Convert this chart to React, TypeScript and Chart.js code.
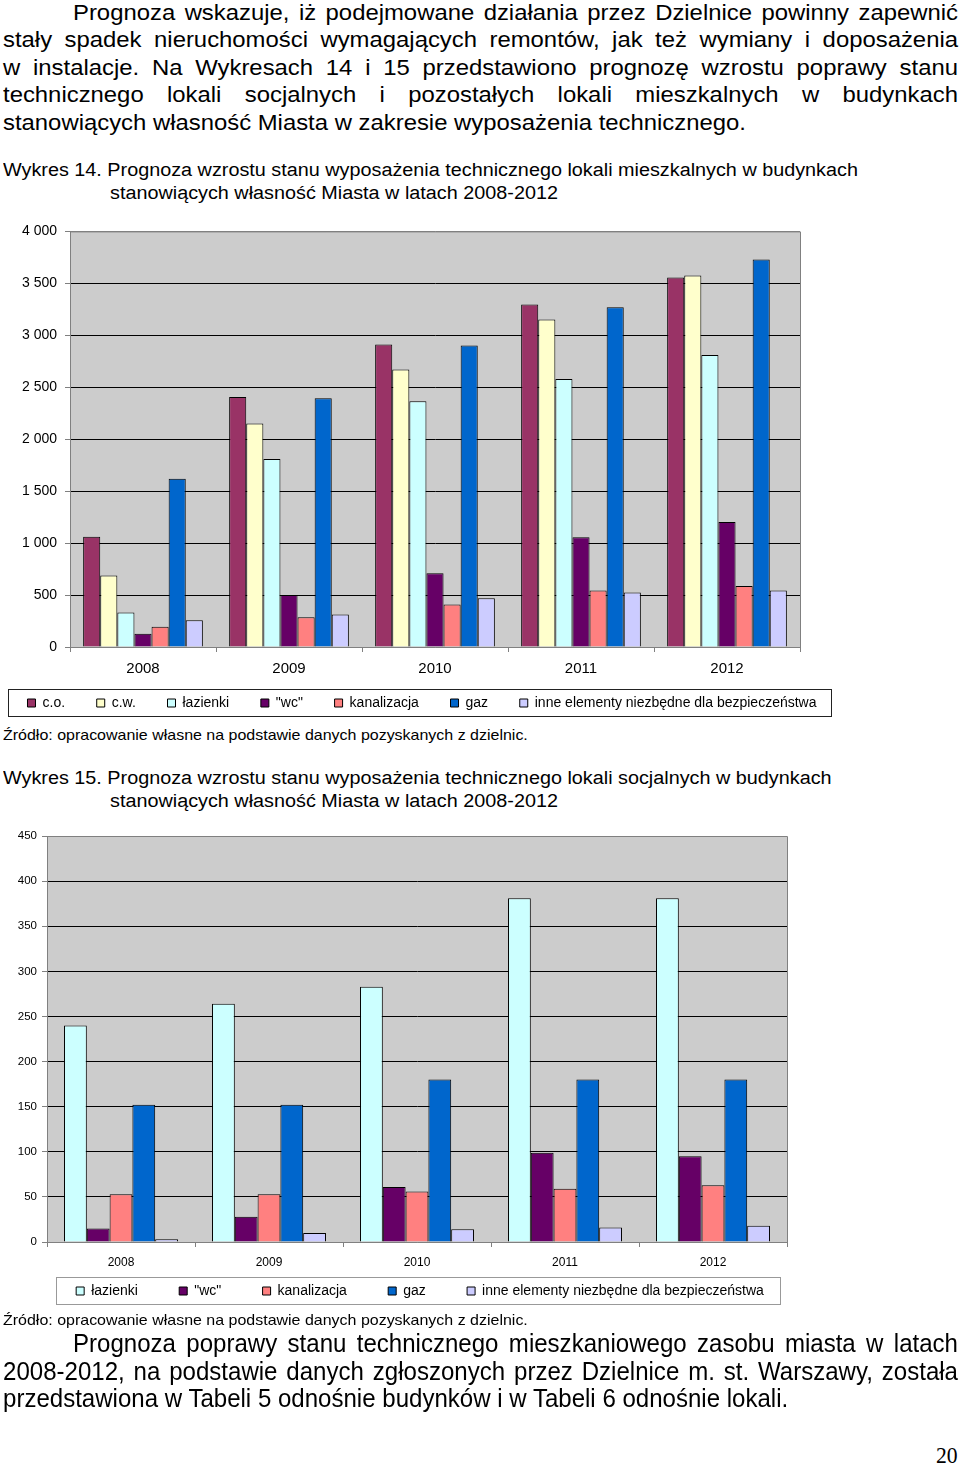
import React, { useEffect, useRef } from "react";
import { Chart, registerables } from "chart.js";

Chart.register(...registerables);

// ---------- data ----------
const years = ["2008", "2009", "2010", "2011", "2012"];

// Wykres 14
const co14 = [1060, 2405, 2912, 3296, 3557];
const cw14 = [688, 2150, 2670, 3152, 3576];
const lazienki14 = [331, 1809, 2365, 2580, 2811];
const wc14 = [128, 501, 710, 1057, 1202];
const kanalizacja14 = [196, 286, 408, 543, 588];
const gaz14 = [1619, 2394, 2901, 3271, 3730];
const inne14 = [257, 312, 469, 524, 543];
const yMax14 = 4000;
const yStep14 = 500;

// Wykres 15
const lazienki15 = [240, 264, 283, 381, 381];
const wc15 = [15, 28, 61, 99, 95];
const kanalizacja15 = [53, 53, 56, 59, 63];
const gaz15 = [152, 152, 180, 180, 180];
const inne15 = [3, 10, 14, 16, 18];
const yMax15 = 450;
const yStep15 = 50;

const seriesNames = {
  co: "c.o.",
  cw: "c.w.",
  lazienki: "łazienki",
  wc: "\"wc\"",
  kanalizacja: "kanalizacja",
  gaz: "gaz",
  inne: "inne elementy niezbędne dla bezpieczeństwa",
};

const colors = {
  co: "#993366",
  cw: "#FFFFCC",
  lazienki: "#CCFFFF",
  wc: "#660066",
  kanalizacja: "#FF8080",
  gaz: "#0066CC",
  inne: "#CCCCFF",
};

const FONT = "'Liberation Sans', Arial, sans-serif";

function fmtThousands(v: number) {
  return String(v).replace(/\B(?=(\d{3})+(?!\d))/g, " ");
}

const plotBgPlugin = {
  id: "plotBg",
  beforeDraw(chart: any) {
    const { ctx, chartArea } = chart;
    if (!chartArea) return;
    ctx.save();
    ctx.fillStyle = "#CCCCCC";
    ctx.fillRect(chartArea.left, chartArea.top, chartArea.right - chartArea.left, chartArea.bottom - chartArea.top);
    ctx.restore();
  },
  afterDraw(chart: any) {
    const { ctx, chartArea } = chart;
    ctx.save();
    ctx.strokeStyle = "#808080";
    ctx.lineWidth = 1;
    ctx.beginPath();
    ctx.moveTo(chartArea.left, chartArea.top + 0.5);
    ctx.lineTo(chartArea.right + 0.5, chartArea.top + 0.5);
    ctx.lineTo(chartArea.right + 0.5, chartArea.bottom);
    ctx.stroke();
    ctx.restore();
  },
};

const legendBorderPlugin = {
  id: "legendBorder",
  afterDraw(chart: any, _args: any, opts: any) {
    const lg = chart.legend;
    if (!lg || !lg.legendHitBoxes || !lg.legendHitBoxes.length) return;
    const hb = lg.legendHitBoxes;
    const first = hb[0];
    const last = hb[hb.length - 1];
    const left = Math.round(first.left - (opts.padLeft ?? 20)) + 0.5;
    const right = Math.round(last.left + last.width + (opts.padRight ?? 10)) + 0.5;
    const top = Math.round(first.top - (opts.padTop ?? 8)) + 0.5;
    const bottom = Math.round(first.top + first.height + (opts.padBottom ?? 8)) + 0.5;
    const { ctx } = chart;
    ctx.save();
    ctx.strokeStyle = opts.color || "#000";
    ctx.lineWidth = 1;
    ctx.strokeRect(left, top, right - left, bottom - top);
    ctx.restore();
  },
};

function makeDataset(key: keyof typeof colors, data: number[]) {
  return {
    label: seriesNames[key],
    data,
    backgroundColor: colors[key],
    borderColor: "#000000",
    borderWidth: 1,
    borderSkipped: "bottom",
  };
}

function buildOptions(cfg: {
  yMax: number;
  yStep: number;
  yWidth: number;
  rightWidth: number;
  xHeight: number;
  yFont: number;
  yPad: number;
  xFont: number;
  legendFont: number;
  legendPadding: number;
  legendSpaces: number;
  categoryPercentage: number;
  padding: any;
  legendBorderColor: string;
  thousands: boolean;
  border: any;
}) {
  const gap = " ".repeat(cfg.legendSpaces);
  return {
    responsive: false,
    animation: false,
    devicePixelRatio: 1,
    layout: { padding: cfg.padding },
    datasets: {
      bar: { categoryPercentage: cfg.categoryPercentage, barPercentage: 1 },
    },
    scales: {
      x: {
        grid: {
          offset: true,
          drawOnChartArea: false,
          drawTicks: true,
          tickLength: 5,
          color: "#808080",
        },
        border: { display: true, color: "#808080" },
        ticks: {
          color: "#000",
          font: { family: FONT, size: cfg.xFont },
          padding: 8,
        },
        afterFit: (s: any) => {
          s.height = cfg.xHeight;
        },
      },
      y: {
        min: 0,
        max: cfg.yMax,
        ticks: {
          stepSize: cfg.yStep,
          color: "#000",
          font: { family: FONT, size: cfg.yFont },
          padding: cfg.yPad,
          callback: (v: any) => (cfg.thousands ? fmtThousands(Number(v)) : String(v)),
        },
        grid: {
          color: (c: any) =>
            c.tick && (c.tick.value === 0 || c.tick.value === cfg.yMax) ? "#808080" : "#000000",
          tickColor: "#808080",
          tickLength: 5,
          lineWidth: 1,
        },
        border: { display: true, color: "#808080" },
        afterFit: (s: any) => {
          s.width = cfg.yWidth;
        },
      },
      yRightSpace: {
        type: "linear",
        position: "right",
        display: true,
        grid: { display: false },
        ticks: { display: false },
        border: { display: false },
        afterFit: (s: any) => {
          s.width = cfg.rightWidth;
        },
      },
    },
    plugins: {
      title: { display: false },
      tooltip: { enabled: false },
      legend: {
        display: true,
        position: "bottom",
        labels: {
          boxWidth: 8,
          boxHeight: 8,
          color: "#000",
          font: { family: FONT, size: cfg.legendFont },
          padding: cfg.legendPadding,
          generateLabels: (chart: any) => {
            const items = (Chart.defaults as any).plugins.legend.labels.generateLabels(chart);
            return items.map((it: any, i: number) =>
              i < items.length - 1 ? { ...it, text: it.text + gap } : it
            );
          },
        },
      },
      legendBorder: { color: cfg.legendBorderColor, ...cfg.border },
    },
  };
}

function Chart14() {
  const ref = useRef<HTMLCanvasElement | null>(null);
  useEffect(() => {
    if (!ref.current) return;
    const chart = new Chart(ref.current, {
      type: "bar",
      data: {
        labels: years,
        datasets: [
          makeDataset("co", co14),
          makeDataset("cw", cw14),
          makeDataset("lazienki", lazienki14),
          makeDataset("wc", wc14),
          makeDataset("kanalizacja", kanalizacja14),
          makeDataset("gaz", gaz14),
          makeDataset("inne", inne14),
        ],
      },
      options: buildOptions({
        yMax: yMax14,
        yStep: yStep14,
        yWidth: 98,
        rightWidth: 72,
        xHeight: 29,
        yFont: 14,
        yPad: 8,
        xFont: 15,
        legendFont: 14,
        legendPadding: 20,
        legendSpaces: 3,
        categoryPercentage: 0.82,
        padding: { left: 0, right: 0, top: 16, bottom: 5 },
        legendBorderColor: "#222",
        thousands: true,
        border: { padLeft: 19, padRight: 14, padTop: 7, padBottom: 6 },
      }) as any,
      plugins: [plotBgPlugin, legendBorderPlugin],
    });
    return () => chart.destroy();
  }, []);
  return (
    <canvas
      ref={ref}
      width={900}
      height={510}
      style={{ position: "absolute", left: -28, top: 215, width: 900, height: 510 }}
    />
  );
}

function Chart15() {
  const ref = useRef<HTMLCanvasElement | null>(null);
  useEffect(() => {
    if (!ref.current) return;
    const chart = new Chart(ref.current, {
      type: "bar",
      data: {
        labels: years,
        datasets: [
          makeDataset("lazienki", lazienki15),
          makeDataset("wc", wc15),
          makeDataset("kanalizacja", kanalizacja15),
          makeDataset("gaz", gaz15),
          makeDataset("inne", inne15),
        ],
      },
      options: buildOptions({
        yMax: yMax15,
        yStep: yStep15,
        yWidth: 47,
        rightWidth: 53,
        xHeight: 24,
        yFont: 11.5,
        yPad: 5,
        xFont: 12,
        legendFont: 14,
        legendPadding: 18,
        legendSpaces: 6,
        categoryPercentage: 0.77,
        padding: { left: 0, right: 0, top: 14, bottom: 4 },
        legendBorderColor: "#999",
        thousands: false,
        border: { padLeft: 20, padRight: 16, padTop: 7, padBottom: 6 },
      }) as any,
      plugins: [plotBgPlugin, legendBorderPlugin],
    });
    return () => chart.destroy();
  }, []);
  return (
    <canvas
      ref={ref}
      width={840}
      height={490}
      style={{ position: "absolute", left: 0, top: 822, width: 840, height: 490 }}
    />
  );
}

function Line(props: {
  text: string;
  left: number;
  right: number;
  center: number;
  size: number;
  justify?: boolean;
  family?: string;
  lh?: number;
  sx?: number;
}) {
  const lh = props.lh ?? 28;
  const sx = props.sx ?? 1;
  return (
    <div
      style={{
        position: "absolute",
        left: props.left,
        width: (props.right - props.left) / sx,
        top: props.center - lh / 2,
        height: lh,
        lineHeight: lh + "px",
        fontSize: props.size,
        fontFamily: props.family ?? FONT,
        color: "#000",
        textAlign: props.justify ? "justify" : "left",
        textAlignLast: props.justify ? "justify" : "left",
        whiteSpace: props.justify ? "normal" : "nowrap",
        transform: `scaleX(${sx})`,
        transformOrigin: "0 0",
      } as any}
    >
      {props.text}
    </div>
  );
}

export default function App() {
  return (
    <div style={{ position: "absolute", left: 0, top: 0, width: 960, height: 1465, background: "#fff", overflow: "hidden" }}>
      <Line text="Prognoza wskazuje, iż podejmowane działania przez Dzielnice powinny zapewnić" left={73} right={958} center={13} size={22} justify sx={1.085} />
      <Line text="stały spadek nieruchomości wymagających remontów, jak też wymiany i doposażenia" left={3} right={958} center={40} size={22} justify sx={1.085} />
      <Line text="w instalacje. Na Wykresach 14 i 15 przedstawiono prognozę wzrostu poprawy stanu" left={3} right={958} center={67.5} size={22} justify sx={1.085} />
      <Line text="technicznego lokali socjalnych i pozostałych lokali mieszkalnych w budynkach" left={3} right={958} center={95} size={22} justify sx={1.085} />
      <Line text="stanowiących własność Miasta w zakresie wyposażenia technicznego." left={3} right={958} center={122.5} size={22} sx={1.085} />

      <Line text="Wykres 14. Prognoza wzrostu stanu wyposażenia technicznego lokali mieszkalnych w budynkach" left={3} right={958} center={170} size={18} lh={22} sx={1.1} />
      <Line text="stanowiących własność Miasta w latach 2008-2012" left={110} right={958} center={193} size={18} lh={22} sx={1.1} />

      <Chart14 />

      <Line text="Źródło: opracowanie własne na podstawie danych pozyskanych z dzielnic." left={3} right={958} center={735} size={15} lh={20} sx={1.065} />

      <Line text="Wykres 15. Prognoza wzrostu stanu wyposażenia technicznego lokali socjalnych w budynkach" left={3} right={958} center={778} size={18} lh={22} sx={1.1} />
      <Line text="stanowiących własność Miasta w latach 2008-2012" left={110} right={958} center={801} size={18} lh={22} sx={1.1} />

      <Chart15 />

      <Line text="Źródło: opracowanie własne na podstawie danych pozyskanych z dzielnic." left={3} right={958} center={1320} size={15} lh={20} sx={1.065} />

      <Line text="Prognoza poprawy stanu technicznego mieszkaniowego zasobu miasta w latach" left={73} right={958} center={1343} size={26} justify sx={0.925} />
      <Line text="2008-2012, na podstawie danych zgłoszonych przez Dzielnice m. st. Warszawy, została" left={3} right={958} center={1370.5} size={26} justify sx={0.925} />
      <Line text="przedstawiona w Tabeli 5 odnośnie budynków i w Tabeli 6 odnośnie lokali." left={3} right={958} center={1398} size={26} sx={0.925} />

      <Line text="20" left={936} right={960} center={1455} size={24} family="'Liberation Serif', serif" sx={0.9} />
    </div>
  );
}
